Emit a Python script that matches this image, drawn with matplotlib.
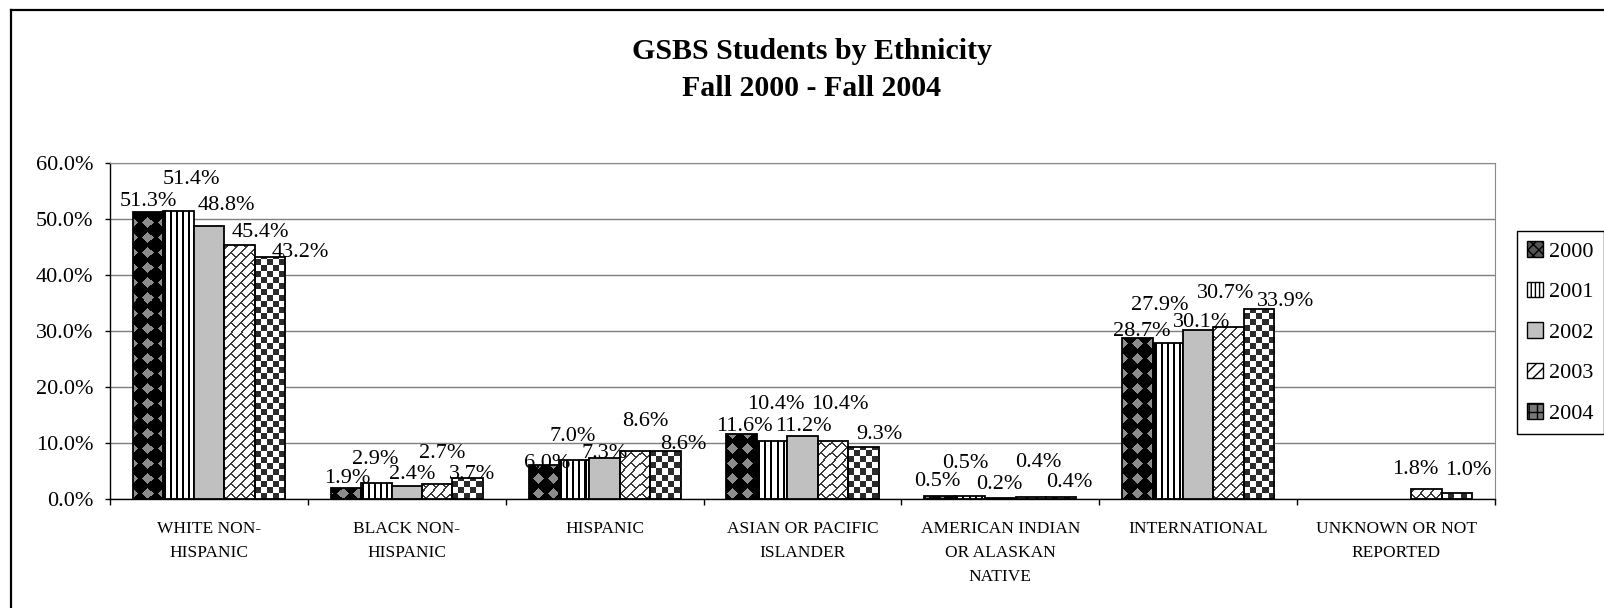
import numpy as np
import matplotlib
matplotlib.use("Agg")
import matplotlib.pyplot as plt
from matplotlib.patches import Patch
from matplotlib.lines import Line2D
from matplotlib.ticker import FuncFormatter

plt.rcParams['font.family'] = ['Liberation Serif', 'DejaVu Serif']

# data
categories = ["WHITE NON-\nHISPANIC", "BLACK NON-\nHISPANIC", "HISPANIC",
              "ASIAN OR PACIFIC\nISLANDER", "AMERICAN INDIAN\nOR ALASKAN\nNATIVE",
              "INTERNATIONAL", "UNKNOWN OR NOT\nREPORTED"]
years = ["2000", "2001", "2002", "2003", "2004"]
pct_2000 = [51.3, 1.9, 6.0, 11.6, 0.5, 28.7, 0.0]
pct_2001 = [51.4, 2.9, 7.0, 10.4, 0.5, 27.9, 0.0]
pct_2002 = [48.8, 2.4, 7.3, 11.2, 0.2, 30.1, 0.0]
pct_2003 = [45.4, 2.7, 8.6, 10.4, 0.4, 30.7, 1.8]
pct_2004 = [43.2, 3.7, 8.6, 9.3, 0.4, 33.9, 1.0]
series = [pct_2000, pct_2001, pct_2002, pct_2003, pct_2004]

# label nudges in pixels (Excel staggered the value labels to dodge each other)
label_dy = [[13, 13, 5, 11, 18, 10, 0],
            [35, 26, 26, 39, 36, 40, 0],
            [23, 14, 8, 13, 16, 11, 0],
            [15, 33, 32, 39, 37, 37, 22],
            [8, 7, 9, 15, 17, 11, 26]]
label_dx = [[0, 1, 3, 3, -2, 4, 0],
            [13, -1, -2, 4, -5, -8, 0],
            [17, 5, 0, 1, -1, 3, 0],
            [21, 5, 10, 7, 8, -3, -11],
            [31, 4, 18, 16, 8, 26, 11]]

W_PX, H_PX = 1604, 608
fig = plt.figure(figsize=(W_PX / 100, H_PX / 100), dpi=100)

# plot area in pixels
left, right, top, bottom = 110, 1495, 163, 499
ax = fig.add_axes([left / W_PX, 1 - bottom / H_PX, (right - left) / W_PX, (bottom - top) / H_PX])

# fill textures (pixel patterns like the old Excel fills)
th, tw = bottom - top, right - left
rr, cc = np.mgrid[0:th, 0:tw]


def paint(mask, on, off):
    img = np.empty((th, tw, 3))
    img[:] = matplotlib.colors.to_rgb(off)
    img[mask] = matplotlib.colors.to_rgb(on)
    return img


q = 15
u, v = cc + rr, cc - rr
diam = (((u // q) + (v // q)) % 2 == 0) & (u % q >= 2) & (u % q < q - 2) & (v % q >= 2) & (v % q < q - 2)
tex_diamond = paint(diam, '#8c8c8c', '#000000')
tex_stripe = paint(cc % 6 < 2, '#000000', '#ffffff')
p = 10
k = (cc + rr) // p
brick = ((cc + rr) % p < 2) | (((cc - rr + (k % 2) * p) % (2 * p)) < 2)
tex_brick = paint(brick, '#3a3a3a', '#ffffff')
tex_check = paint(((cc // 6) + (rr // 6)) % 2 == 0, '#2b2b2b', '#ffffff')
textures = [tex_diamond, tex_stripe, None, tex_brick, tex_check]

x = np.arange(len(categories))
w = 1 / 6.5
extent = (-0.5, len(categories) - 0.5, 0, 60)

for i, vals in enumerate(series):
    xs = x + (i - 2) * w
    bars = ax.bar(xs, vals, w, facecolor='#c0c0c0' if textures[i] is None else 'none',
                  edgecolor='black', linewidth=1.3, zorder=3)
    for b, val in zip(bars, vals):
        if val == 0:
            b.set_visible(False)
            continue
        if textures[i] is not None:
            im = ax.imshow(textures[i], extent=extent, aspect='auto',
                           interpolation='nearest', zorder=2)
            im.set_clip_path(b)
    # value labels
    for j, (xi, val) in enumerate(zip(xs, vals)):
        if val > 0:
            ax.annotate(f"{val:.1f}%", (xi, val),
                        xytext=(label_dx[i][j], label_dy[i][j] - 7.5), textcoords='offset pixels',
                        ha='center', va='baseline', fontsize=16, zorder=5)

ax.set_xlim(-0.5, len(categories) - 0.5)
ax.set_ylim(0, 60)
ax.set_yticks(np.arange(0, 61, 10))
ax.yaxis.set_major_formatter(FuncFormatter(lambda val, pos: f"{val:.1f}%"))
ax.set_xticks(x)
ax.set_xticklabels(categories, fontsize=12.5, linespacing=1.65, va='top')
ax.set_xticks(np.arange(-0.5, len(categories)), minor=True)
ax.tick_params(axis='x', which='major', length=0, pad=16)
ax.tick_params(axis='x', which='minor', length=4.5, width=1, direction='out')
ax.tick_params(axis='y', length=3.6, width=1, direction='out', pad=8.5, labelsize=16)

ax.set_axisbelow(True)
ax.yaxis.grid(True, color='#7f7f7f', linewidth=1)
for s in ['top', 'right']:
    ax.spines[s].set_color('#8a8a8a')
for s in ['left', 'bottom']:
    ax.spines[s].set_color('black')
    ax.spines[s].set_linewidth(1)

# legend
handles = [
    Patch(facecolor='#555555', edgecolor='black', hatch='xxx', label=years[0]),
    Patch(facecolor='white', edgecolor='black', hatch='||||', label=years[1]),
    Patch(facecolor='#c0c0c0', edgecolor='black', label=years[2]),
    Patch(facecolor='white', edgecolor='black', hatch='///', label=years[3]),
    Patch(facecolor='#777777', edgecolor='black', hatch='++', label=years[4]),
]
leg = fig.legend(handles=handles, loc='upper left', bbox_to_anchor=(1517 / W_PX, 1 - 231 / H_PX),
                 borderaxespad=0, fontsize=16, handlelength=0.7, handleheight=0.7,
                 handletextpad=0.3, labelspacing=0.9, borderpad=0.45, fancybox=False,
                 framealpha=1)
leg.get_frame().set_edgecolor('black')
leg.get_frame().set_linewidth(1)

# title
fig.text(812 / W_PX, 1 - 70 / H_PX, "GSBS Students by Ethnicity\nFall 2000 - Fall 2004",
         ha='center', va='center', fontsize=21.5, fontweight='bold', linespacing=1.5)

# chart area border (top and left edges visible)
fig.add_artist(Line2D([11 / W_PX, 11 / W_PX], [0, 1 - 10 / H_PX], transform=fig.transFigure,
                      color='black', linewidth=1.6))
fig.add_artist(Line2D([11 / W_PX, 1], [1 - 10 / H_PX, 1 - 10 / H_PX], transform=fig.transFigure,
                      color='black', linewidth=1.6))

fig.savefig("out.png", dpi=100)
